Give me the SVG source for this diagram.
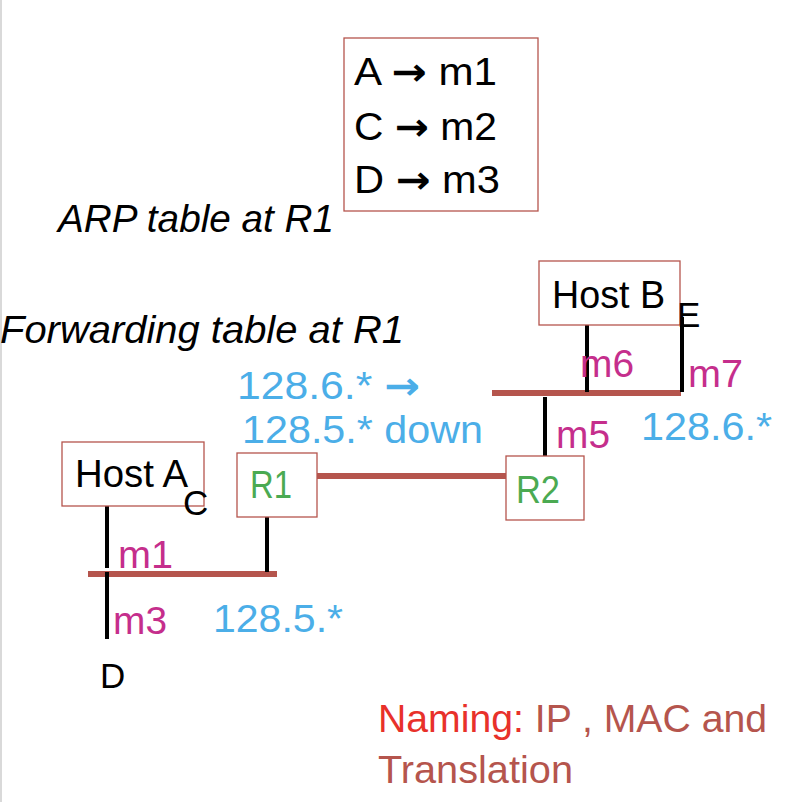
<svg xmlns="http://www.w3.org/2000/svg" width="800" height="802" viewBox="0 0 800 802">
<style>
text{font-family:"Liberation Sans",Arial,sans-serif;font-size:38px;}
.k{fill:#000}
.it{font-style:italic;fill:#000}
.mag{fill:#C52E8C}
.blue{fill:#4BAEE8}
.grn{fill:#4BAA52}
.arr{font-family:"DejaVu Sans",sans-serif;font-weight:bold}
.box{fill:#fff;stroke:#B5554D;stroke-width:1.3}
.bus{stroke:#B5554D;stroke-width:6;fill:none}
.port{stroke:#000;stroke-width:4;fill:none}
</style>
<rect width="800" height="802" fill="#fff"/>
<line x1="1" y1="0" x2="1" y2="802" stroke="#d9d9d9" stroke-width="2"/>

<g id="arp-table">
<rect class="box" x="344" y="38" width="194" height="173"/>
<text class="k" x="354" y="85" textLength="143" lengthAdjust="spacingAndGlyphs">A <tspan class="arr">→</tspan> m1</text>
<text class="k" x="354" y="140" textLength="143" lengthAdjust="spacingAndGlyphs">C <tspan class="arr">→</tspan> m2</text>
<text class="k" x="354" y="193" textLength="146" lengthAdjust="spacingAndGlyphs">D <tspan class="arr">→</tspan> m3</text>
</g>
<text class="it" x="58" y="232" textLength="276" lengthAdjust="spacingAndGlyphs">ARP table at R1</text>
<text class="it" x="0" y="343" textLength="404" lengthAdjust="spacingAndGlyphs">Forwarding table at R1</text>
<text class="blue" x="237" y="399" textLength="183" lengthAdjust="spacingAndGlyphs">128.6.* <tspan class="arr">→</tspan></text>
<text class="blue" x="242" y="443" textLength="241" lengthAdjust="spacingAndGlyphs">128.5.* down</text>

<g id="connectors">
<line class="bus" x1="88" y1="574" x2="277" y2="574"/>
<line class="bus" x1="316" y1="476" x2="506" y2="476"/>
<line class="bus" x1="492" y1="393" x2="681" y2="393"/>
<line class="port" x1="107" y1="500" x2="107" y2="568"/>
<line class="port" x1="107" y1="572" x2="107" y2="639"/>
<line class="port" x1="267" y1="503" x2="267" y2="572"/>
<line class="port" x1="545" y1="397" x2="545" y2="461"/>
<line class="port" x1="587" y1="324" x2="587" y2="392"/>
<line class="port" x1="682" y1="317" x2="682" y2="392"/>
</g>

<g id="host-a">
<rect class="box" x="62" y="442" width="142" height="64"/>
<text class="k" x="75" y="487" textLength="113" lengthAdjust="spacingAndGlyphs">Host A</text>
</g>
<g id="r1">
<rect class="box" x="237" y="453" width="80" height="64"/>
<text class="grn" x="250" y="498" textLength="42" lengthAdjust="spacingAndGlyphs">R1</text>
</g>
<g id="r2">
<rect class="box" x="506" y="456" width="78" height="64"/>
<text class="grn" x="516" y="503" textLength="44" lengthAdjust="spacingAndGlyphs">R2</text>
</g>
<g id="host-b">
<rect class="box" x="539" y="261" width="141" height="64"/>
<text class="k" x="552" y="308" textLength="113" lengthAdjust="spacingAndGlyphs">Host B</text>
</g>

<text class="k" x="183" y="515" style="font-size:35px">C</text>
<text class="k" x="100" y="688" style="font-size:35px">D</text>
<text class="k" x="677" y="327" style="font-size:35px">E</text>

<text class="mag" x="118" y="568" textLength="55" lengthAdjust="spacingAndGlyphs">m1</text>
<text class="mag" x="113" y="634" textLength="54" lengthAdjust="spacingAndGlyphs">m3</text>
<text class="mag" x="556" y="448" textLength="54" lengthAdjust="spacingAndGlyphs">m5</text>
<text class="mag" x="580" y="377" textLength="54" lengthAdjust="spacingAndGlyphs">m6</text>
<text class="mag" x="688" y="387" textLength="55" lengthAdjust="spacingAndGlyphs">m7</text>

<text class="blue" x="213" y="632" textLength="130" lengthAdjust="spacingAndGlyphs">128.5.*</text>
<text class="blue" x="641" y="440" textLength="131" lengthAdjust="spacingAndGlyphs">128.6.*</text>

<text x="378" y="732" textLength="389" lengthAdjust="spacingAndGlyphs"><tspan fill="#E8312A">Naming:</tspan><tspan fill="#B5554D"> IP , MAC and</tspan></text>
<text x="378" y="783" fill="#B5554D" textLength="195" lengthAdjust="spacingAndGlyphs">Translation</text>
</svg>
